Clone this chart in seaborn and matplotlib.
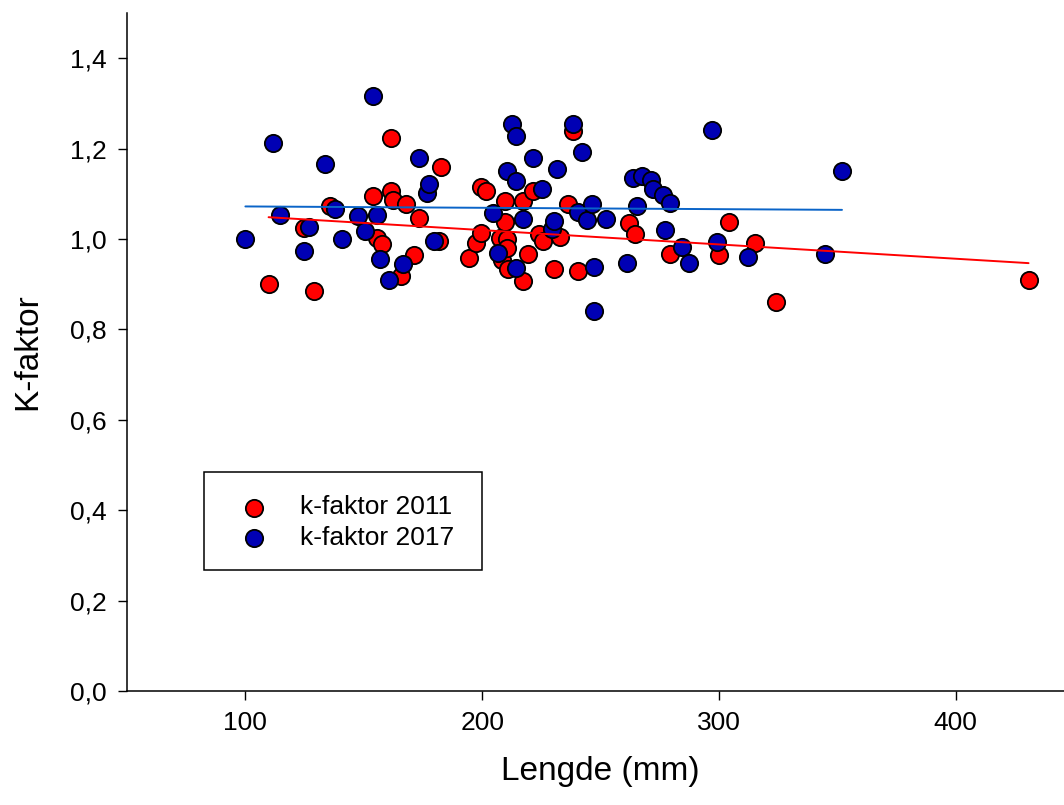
import numpy as np
import pandas as pd
import seaborn as sns
import matplotlib.pyplot as plt
from matplotlib.patches import Rectangle
from matplotlib.ticker import FuncFormatter

# k-faktor 2011 (length in mm, condition factor)
len_2011 = [109.8, 128.8, 124.6, 135.6, 153.7, 155.7, 157.8, 161.6, 161.6, 162.3,
            165.7, 167.8, 171.4, 173.5, 181.9, 182.6, 194.5, 197.6, 199.4, 199.6,
            201.6, 207.7, 208.3, 209.7, 209.7, 210.7, 210.7, 211.1, 217.4, 217.4,
            219.4, 221.4, 224.2, 225.6, 230.4, 232.8, 236.4, 238.4, 240.5, 262.2,
            264.4, 279.3, 300.1, 304.2, 315.2, 324.1, 430.8]
k_2011 = [0.901, 0.885, 1.024, 1.074, 1.096, 1.003, 0.989, 1.224, 1.107, 1.086,
          0.918, 1.077, 0.965, 1.047, 0.995, 1.159, 0.957, 0.992, 1.014, 1.115,
          1.106, 1.003, 0.953, 1.083, 1.037, 1.001, 0.979, 0.934, 1.083, 0.908,
          0.967, 1.106, 1.012, 0.995, 0.933, 1.004, 1.077, 1.238, 0.930, 1.035,
          1.011, 0.967, 0.965, 1.037, 0.992, 0.860, 0.910]

# k-faktor 2017
len_2017 = [100.0, 111.7, 114.8, 124.8, 126.7, 133.6, 137.7, 140.8, 147.7, 150.6,
            153.7, 155.8, 156.8, 160.8, 166.5, 173.5, 176.7, 177.5, 179.7, 204.5,
            206.5, 210.4, 212.5, 214.3, 214.5, 214.5, 217.4, 221.5, 225.4, 229.5,
            230.4, 231.5, 238.4, 240.5, 242.3, 244.4, 246.5, 247.3, 247.3, 252.3,
            261.3, 263.8, 265.3, 267.4, 271.3, 272.3, 276.2, 277.2, 279.3, 284.3,
            287.2, 297.2, 299.2, 312.2, 345.0, 352.0]
k_2017 = [1.001, 1.212, 1.053, 0.973, 1.026, 1.165, 1.066, 0.999, 1.051, 1.017,
          1.316, 1.054, 0.955, 0.910, 0.945, 1.179, 1.101, 1.121, 0.995, 1.057,
          0.970, 1.151, 1.254, 0.936, 1.228, 1.128, 1.044, 1.180, 1.111, 1.023,
          1.040, 1.154, 1.254, 1.060, 1.193, 1.041, 1.078, 0.938, 0.840, 1.045,
          0.947, 1.135, 1.074, 1.139, 1.130, 1.111, 1.097, 1.020, 1.080, 0.982,
          0.947, 1.241, 0.993, 0.960, 0.966, 1.150]

x_ticks = [100, 200, 300, 400]
y_ticks = [0.0, 0.2, 0.4, 0.6, 0.8, 1.0, 1.2, 1.4]

df11 = pd.DataFrame({"Lengde": len_2011, "K": k_2011})
df17 = pd.DataFrame({"Lengde": len_2017, "K": k_2017})

sns.set_style("ticks")
plt.rcParams['font.family'] = ['Liberation Sans', 'DejaVu Sans']
plt.rcParams['text.color'] = 'black'

fig = plt.figure(figsize=(10.64, 8.05), dpi=100)
ax = fig.add_axes([127 / 1064, 114 / 805, 947 / 1064, 678 / 805])

marker_kw = dict(s=155, edgecolor="black", linewidth=1.3, zorder=3)
sns.scatterplot(data=df11, x="Lengde", y="K", color="#FF0000", label="k-faktor 2011", ax=ax, **marker_kw)
sns.scatterplot(data=df17, x="Lengde", y="K", color="#0000B4", label="k-faktor 2017", ax=ax, **marker_kw)

# linear regression lines
sns.regplot(data=df11, x="Lengde", y="K", scatter=False, ci=None, truncate=True,
            color="#FF0000", line_kws={"linewidth": 1.4, "zorder": 4}, ax=ax)
sns.regplot(data=df17, x="Lengde", y="K", scatter=False, ci=None, truncate=True,
            color="#0A64C8", line_kws={"linewidth": 1.4, "zorder": 4}, ax=ax)

ax.set_xlim(50, 450)
ax.set_ylim(0, 1.5)
ax.set_xticks(x_ticks)
ax.set_yticks(y_ticks)
ax.yaxis.set_major_formatter(FuncFormatter(lambda v, p: f"{v:.1f}".replace(".", ",")))
ax.tick_params(direction="out", length=6.5, width=1, labelsize=19, colors="black",
               labelcolor="black", pad=8)
for side in ["left", "bottom"]:
    ax.spines[side].set_color("black")
    ax.spines[side].set_linewidth(1.1)
sns.despine(ax=ax)

ax.set_xlabel("Lengde (mm)", fontsize=24, labelpad=15, color="black")
ax.set_ylabel("K-faktor", fontsize=24, labelpad=19, color="black")

# legend entries without frame, plain square box drawn around them
leg = ax.legend(loc="upper left", bbox_to_anchor=(0.0813, 0.323), frameon=False,
                fontsize=19, borderpad=0.89, handlelength=2.0, handletextpad=0.74,
                labelspacing=0.23, borderaxespad=0)
for t in leg.get_texts():
    t.set_color("black")
ax.add_patch(Rectangle((0.0813, 0.1785), 0.2936, 0.1445, transform=ax.transAxes,
                       fill=False, edgecolor="black", linewidth=1.1, clip_on=False, zorder=5))

fig.savefig("out.png", dpi=100)
